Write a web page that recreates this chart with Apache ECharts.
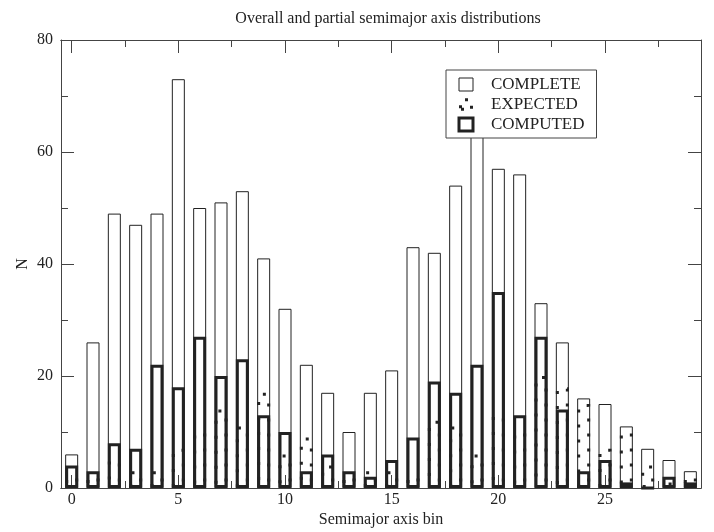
<!DOCTYPE html>
<html><head><meta charset="utf-8">
<script src="https://cdn.jsdelivr.net/npm/echarts@6/dist/echarts.min.js"></script>
<style>html,body{margin:0;padding:0;background:#fff}#c{width:714px;height:532px}</style>
</head><body><div id="c"></div>
<script>
const bins = [0,1,2,3,4,5,6,7,8,9,10,11,12,13,14,15,16,17,18,19,20,21,22,23,24,25,26,27,28,29];
const complete = [6,26,49,47,49,73,50,51,53,41,32,22,17,10,17,21,43,42,54,66,57,56,33,26,16,15,11,7,5,3];
const expected = [2,2,5,3,3,7,10,14,11,17,6,9,4,2,3,3,2,12,11,6,13,10,20,18,15,7,10,4,1,2];
const computed = [4,3,8,7,22,18,27,20,23,13,10,3,6,3,2,5,9,19,17,22,35,13,27,14,3,5,1,0,2,1];
const xMajorTicks = [0,5,10,15,20,25];
const xMinorTicks = [2.5,7.5,12.5,17.5,22.5,27.5];
const seriesNames = ['COMPLETE','EXPECTED','COMPUTED'];

const FONT = 'Liberation Serif';
const INK = '#222';
const AX = '#444';

function xAx(pos, ticks, len, showLabels, name) {
  return {
    type: 'value', position: pos, min: -0.5, max: 29.5,
    name: name || '', nameLocation: 'middle', nameGap: 24, nameMoveOverlap: false,
    nameTextStyle: {fontFamily: FONT, fontSize: 16, color: INK},
    axisLine: {show: true, onZero: false, lineStyle: {color: AX, width: 1}},
    axisTick: {show: true, inside: true, length: len, customValues: ticks, lineStyle: {color: AX, width: 1}},
    axisLabel: {show: showLabels, customValues: ticks, margin: 4, fontFamily: FONT, fontSize: 16, color: INK},
    splitLine: {show: false}
  };
}
function yAx(pos, showLabels, name) {
  return {
    type: 'value', position: pos, min: 0, max: 80, interval: 20,
    name: name || '', nameLocation: 'middle', nameGap: 30, nameRotate: 90, nameMoveOverlap: false,
    nameTextStyle: {fontFamily: FONT, fontSize: 16, color: INK},
    axisLine: {show: true, onZero: false, lineStyle: {color: AX, width: 1}},
    axisTick: {show: true, inside: true, length: 13, lineStyle: {color: AX, width: 1}},
    minorTick: {show: true, splitNumber: 2, length: 7, lineStyle: {color: AX, width: 1}},
    axisLabel: {show: showLabels, margin: 8, fontFamily: FONT, fontSize: 16, color: INK},
    splitLine: {show: false}, minorSplitLine: {show: false}
  };
}

const pairs = arr => bins.map((b, i) => [b, arr[i]]);

const option = {
  animation: false,
  backgroundColor: '#fff',
  title: {
    text: 'Overall and partial semimajor axis distributions',
    left: 383, top: 6, textAlign: 'center',
    textStyle: {fontFamily: FONT, fontSize: 16, fontWeight: 'normal', color: INK}
  },
  grid: {left: 61, right: 13, top: 40, bottom: 44, containLabel: false, outerBoundsMode: 'none'},
  xAxis: [
    xAx('bottom', xMajorTicks, 13, true, 'Semimajor axis bin'),
    xAx('bottom', xMinorTicks, 7, false),
    xAx('top', xMajorTicks, 13, false),
    xAx('top', xMinorTicks, 7, false)
  ],
  yAxis: [yAx('left', true, 'N'), yAx('right', false)],
  legend: {
    orient: 'vertical', left: 446, top: 70,
    itemWidth: 14, itemHeight: 13, itemGap: 3,
    padding: [6, 12, 5, 11.5],
    backgroundColor: '#fff', borderColor: AX, borderWidth: 1, borderRadius: 0,
    selectedMode: false,
    textStyle: {fontFamily: FONT, fontSize: 17, color: INK, padding: [0, 0, 0, 13]},
    data: [
      {name: seriesNames[0], icon: 'rect', itemStyle: {color: 'transparent', borderColor: INK, borderWidth: 1}},
      {name: seriesNames[1], icon: 'path://M6,0h3v3h-3zM0,7h3v3h-3zM2,9.5h3v3h-3zM11,7.5h3v3h-3z', itemStyle: {color: INK, borderWidth: 0}},
      {name: seriesNames[2], icon: 'rect', itemStyle: {color: 'transparent', borderColor: INK, borderWidth: 3}}
    ],
    z: 10
  },
  series: [
    {
      name: seriesNames[0], type: 'bar', data: pairs(complete), barWidth: 13, barGap: '-100%',
      itemStyle: {color: 'transparent', borderColor: INK, borderWidth: 1},
      emphasis: {disabled: true}, silent: true, z: 2
    },
    {
      name: seriesNames[1], type: 'bar', data: pairs(expected), barWidth: 13, barGap: '-100%',
      itemStyle: {color: 'transparent', borderColor: INK, borderWidth: 3, borderType: [3, 12]},
      emphasis: {disabled: true}, silent: true, z: 3
    },
    {
      name: seriesNames[2], type: 'bar', data: pairs(computed), barWidth: 13, barGap: '-100%',
      itemStyle: {color: 'transparent', borderColor: INK, borderWidth: 3},
      emphasis: {disabled: true}, silent: true, z: 4
    }
  ]
};
const chart = echarts.init(document.getElementById('c'), null, {renderer: 'canvas'});
chart.setOption(option);
</script></body></html>
